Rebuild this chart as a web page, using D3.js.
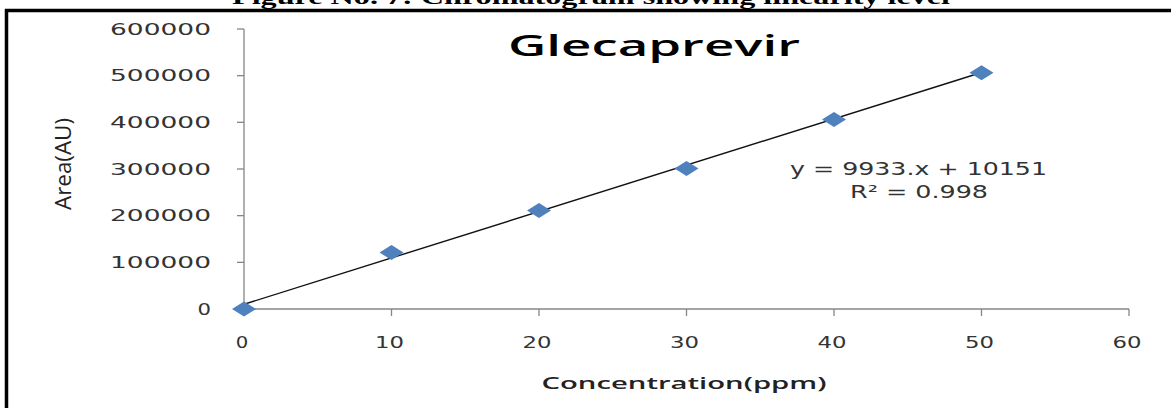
<!DOCTYPE html>
<html>
<head>
<meta charset="utf-8">
<script src="https://cdn.jsdelivr.net/npm/d3@7"></script>
<style>
  html, body { margin: 0; padding: 0; background: #fff; }
  svg { display: block; }
</style>
</head>
<body>
<svg id="chart" width="1171" height="408"></svg>
<script>
const concentrations = [0, 10, 20, 30, 40, 50];
const areas = [0, 121000, 211000, 301000, 406000, 506000];
const xTicks = [0, 10, 20, 30, 40, 50, 60];
const yTicks = [0, 100000, 200000, 300000, 400000, 500000, 600000];
const slope = 9933;
const intercept = 10151;
const equationLabel = 'y = 9933.x + 10151';
const r2Label = 'R² = 0.998';
const chartTitle = 'Glecaprevir';
const xTitle = 'Concentration(ppm)';
const yTitle = 'Area(AU)';
const caption = 'Figure No. 7: Chromatogram showing linearity level';

const svg = d3.select('#chart');

let x = d3.scaleLinear().domain([0, 60]).range([244, 1129]);
let y = d3.scaleLinear().domain([0, 600000]).range([309, 29]);

svg.append('text')
  .attr('x', 232).attr('y', 4)
  .attr('textLength', 718).attr('lengthAdjust', 'spacingAndGlyphs')
  .style('font-family', '"Liberation Serif", "Times New Roman", serif')
  .style('font-weight', 'bold').style('font-size', '20px')
  .text(caption);

svg.append('rect')
  .attr('x', 6.5).attr('y', 10.5)
  .attr('width', 1200).attr('height', 500)
  .attr('fill', 'none').attr('stroke', '#000').attr('stroke-width', 3.5);

const axisColor = '#868686';
const labelFont = '"DejaVu Sans", Verdana, sans-serif';

// y axis
let yAxis = svg.append('g');
yAxis.append('line')
  .attr('x1', x(0)).attr('x2', x(0))
  .attr('y1', y(600000)).attr('y2', y(0))
  .attr('stroke', axisColor).attr('stroke-width', 1.3);
yAxis.selectAll('.ytick').data(yTicks).enter().append('line')
  .attr('x1', x(0) - 7).attr('x2', x(0))
  .attr('y1', function (d) { return y(d); }).attr('y2', function (d) { return y(d); })
  .attr('stroke', axisColor).attr('stroke-width', 1.3);
yAxis.selectAll('.ylab').data(yTicks).enter().append('text')
  .attr('x', 211).attr('y', function (d) { return y(d) + 5.5; })
  .attr('text-anchor', 'end')
  .attr('textLength', function (d) { return String(d).length * 17.5 - 4; })
  .attr('lengthAdjust', 'spacingAndGlyphs')
  .style('font-family', labelFont).style('font-size', '15px').attr('fill', '#333')
  .text(function (d) { return d; });

// x axis
let xAxis = svg.append('g');
xAxis.append('line')
  .attr('x1', x(0)).attr('x2', x(60))
  .attr('y1', y(0)).attr('y2', y(0))
  .attr('stroke', axisColor).attr('stroke-width', 1.3);
xAxis.selectAll('.xtick').data(xTicks).enter().append('line')
  .attr('x1', function (d) { return x(d); }).attr('x2', function (d) { return x(d); })
  .attr('y1', y(0)).attr('y2', y(0) + 7)
  .attr('stroke', axisColor).attr('stroke-width', 1.3);
xAxis.selectAll('.xlab').data(xTicks).enter().append('text')
  .attr('x', function (d) { return x(d) - 2; }).attr('y', 348)
  .attr('text-anchor', 'middle')
  .attr('textLength', function (d) { return String(d).length * 16.5 - 4; })
  .attr('lengthAdjust', 'spacingAndGlyphs')
  .style('font-family', labelFont).style('font-size', '15px').attr('fill', '#333')
  .text(function (d) { return d; });

// trendline
let trend = d3.line()
  .x(function (d) { return x(d); })
  .y(function (d) { return y(slope * d + intercept); });
svg.append('path')
  .attr('d', trend([0, 50]))
  .attr('fill', 'none').attr('stroke', '#111').attr('stroke-width', 1.4);

// points
let diamond = 'M-12,0 L0,-7.5 L12,0 L0,7.5 Z';
svg.selectAll('.pt').data(d3.zip(concentrations, areas)).enter().append('path')
  .attr('d', diamond)
  .attr('transform', function (d) { return 'translate(' + x(d[0]) + ',' + y(d[1]) + ')'; })
  .attr('fill', '#4F81BD');

svg.append('text')
  .attr('x', 508).attr('y', 56)
  .attr('textLength', 292).attr('lengthAdjust', 'spacingAndGlyphs')
  .style('font-family', '"Open Sans", "Noto Sans", sans-serif')
  .style('font-size', '29px').style('font-weight', '600')
  .text(chartTitle);

svg.append('text')
  .attr('x', 790).attr('y', 175)
  .attr('textLength', 257).attr('lengthAdjust', 'spacingAndGlyphs')
  .style('font-family', labelFont).style('font-size', '17px').attr('fill', '#333')
  .text(equationLabel);
svg.append('text')
  .attr('x', 850).attr('y', 198)
  .attr('textLength', 138).attr('lengthAdjust', 'spacingAndGlyphs')
  .style('font-family', labelFont).style('font-size', '17px').attr('fill', '#333')
  .text(r2Label);

svg.append('text')
  .attr('transform', 'translate(71,164) rotate(-90)')
  .attr('text-anchor', 'middle')
  .attr('textLength', 92).attr('lengthAdjust', 'spacingAndGlyphs')
  .style('font-family', '"Liberation Sans Narrow", "Open Sans", sans-serif')
  .style('font-size', '21px').attr('fill', '#222')
  .text(yTitle);

svg.append('text')
  .attr('x', 684).attr('y', 389)
  .attr('text-anchor', 'middle')
  .attr('textLength', 285).attr('lengthAdjust', 'spacingAndGlyphs')
  .style('font-family', '"Open Sans", "Noto Sans", sans-serif')
  .style('font-size', '16px').style('font-weight', '600').attr('fill', '#222')
  .text(xTitle);
</script>
</body>
</html>
